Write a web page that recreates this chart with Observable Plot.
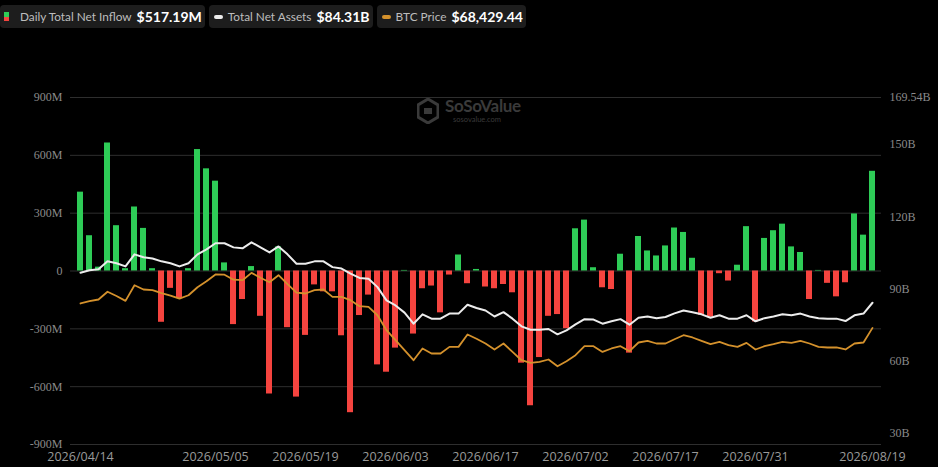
<!DOCTYPE html>
<html>
<head>
<meta charset="utf-8">
<script src="https://cdn.jsdelivr.net/npm/d3@7"></script>
<script src="https://cdn.jsdelivr.net/npm/@observablehq/plot@0.6"></script>
<style>
  html, body { margin: 0; padding: 0; background: #000; }
  #wrap { position: relative; width: 938px; height: 467px; overflow: hidden; background: #000; }
  #legend { height: 40px; display: flex; gap: 4px; padding-top: 5px; box-sizing: border-box; font-family: Lato, "Open Sans", sans-serif; }
  .pill { height: 23px; background: #1d1d1d; border-radius: 4px; display: flex; align-items: center; padding: 0 3px 0 4px; box-sizing: border-box; }
  .lab { color: #bdbdbd; font-size: 11.8px; margin-right: 5px; }
  .val { color: #fff; font-size: 14px; font-weight: 700; }
  .ico-sq { width: 5px; height: 9px; margin-right: 11px; background: linear-gradient(#2ecc57 50%, #f5443f 50%); }
  .ico-ln { width: 9px; height: 4px; border-radius: 2px; margin-right: 5px; margin-left: 1px; }
  #wm { position: absolute; left: 417px; top: 98px; display: flex; align-items: center; gap: 6px; font-family: Lato, sans-serif; color: #3a3a3a; }
  #wm .t1 { font-size: 17px; font-weight: 700; line-height: 16px; letter-spacing: -0.3px; }
  #wm .t2 { font-size: 7.5px; line-height: 8px; padding-left: 8px; margin-top: 2px; }
  g[aria-label="x-axis tick label"] { font-family: "Open Sans", sans-serif; font-size: 12.5px; fill: #9a9a9a; }
  g[aria-label="y-axis tick label"] { font-family: "Liberation Serif", serif; font-size: 12px; fill: #8a8a8a; }
</style>
</head>
<body>
<div id="wrap">
  <div id="legend"></div>
  <div id="chart"></div>
  <div id="wm">
    <svg width="22" height="26" viewBox="0 0 22 26"><path d="M11 1 L21 7 L21 19 L11 25 L1 19 L1 7 Z" fill="none" stroke="#3a3a3a" stroke-width="3"/><path d="M7 10 L15 10 L15 16 L7 16 Z" fill="#3a3a3a"/></svg>
    <div><div class="t1">SoSoValue</div><div class="t2">sosovalue.com</div></div>
  </div>
</div>
<script>
// Trading days (categories)
const dates = [
  "2026/04/14","2026/04/15","2026/04/16","2026/04/17","2026/04/20","2026/04/21","2026/04/22","2026/04/23","2026/04/24","2026/04/27","2026/04/28","2026/04/29","2026/04/30",
  "2026/05/01","2026/05/04","2026/05/05","2026/05/06","2026/05/07","2026/05/08","2026/05/11","2026/05/12","2026/05/13","2026/05/14","2026/05/15","2026/05/18","2026/05/19","2026/05/20","2026/05/21","2026/05/22","2026/05/26","2026/05/27","2026/05/28","2026/05/29",
  "2026/06/01","2026/06/02","2026/06/03","2026/06/04","2026/06/05","2026/06/08","2026/06/09","2026/06/10","2026/06/11","2026/06/12","2026/06/15","2026/06/16","2026/06/17","2026/06/18","2026/06/22","2026/06/23","2026/06/24","2026/06/25","2026/06/26","2026/06/29","2026/06/30",
  "2026/07/01","2026/07/02","2026/07/06","2026/07/07","2026/07/08","2026/07/09","2026/07/10","2026/07/13","2026/07/14","2026/07/15","2026/07/16","2026/07/17","2026/07/20","2026/07/21","2026/07/22","2026/07/23","2026/07/24","2026/07/27","2026/07/28","2026/07/29","2026/07/30","2026/07/31",
  "2026/08/03","2026/08/04","2026/08/05","2026/08/06","2026/08/07","2026/08/10","2026/08/11","2026/08/12","2026/08/13","2026/08/14","2026/08/17","2026/08/18","2026/08/19"
];

// Daily total net inflow, $M
const netInflow = [
  409,183,20,664,235,12,332,221,12,-266,-90,-143,12,
  630,530,466,42,-278,-148,23,-235,-638,125,-294,-654,-334,-72,-108,-108,-336,-735,-231,-125,
  -487,-525,-400,3,-327,-92,-78,-217,-21,83,-66,8,-83,-92,-70,-113,-478,-699,-449,-235,-226,-299,
  219,264,17,-87,-96,87,-426,179,104,78,130,223,200,66,-230,-240,-14,-52,30,230,-264,169,209,243,125,96,
  -148,3,-64,-134,-61,296,186,517.19
];

// Total net assets, $B
const totalNetAssets = [
  96.8,97.8,98.2,101.5,100.7,99.4,104.4,103.2,102.7,101.5,100.7,99.4,100.7,
  104.4,106.5,109.0,109.0,107.3,106.9,109.4,107.3,105.2,107.7,104.4,100.5,100.5,101.5,101.5,99.1,98.5,96.4,94.6,94.3,
  90.8,85.3,83.2,80.2,75.6,79.5,77.7,77.7,79.8,79.8,83.5,82.1,81.1,78.6,80.4,77.7,74.5,73.1,73.1,73.4,71.2,72.8,
  75.3,77.5,77.3,75.6,76.6,77.5,75.2,78.1,78.6,77.9,78.4,79.9,81.1,80.4,79.5,78.1,79.1,77.7,77.7,79.1,76.6,77.9,78.6,79.5,79.1,79.8,
  78.6,77.9,77.7,77.7,76.7,79.1,79.8,84.31
];

// BTC price, $
const btcPrice = [
  74530,75100,75530,77480,76400,75180,79100,78030,77850,77100,76480,75730,76600,
  78600,80100,81780,81730,80480,80350,82180,80980,79850,81600,79350,77230,77030,77850,78030,76180,76180,75350,73850,73680,
  71600,67850,65350,62850,60350,63280,62030,62030,63680,63680,66780,65730,64530,63030,64530,62430,60350,59680,59930,60530,58850,60100,
  61600,63850,63850,62430,63280,63850,62600,64780,65180,64530,64530,65600,66600,66030,65180,64350,64930,64100,63680,64680,63030,63850,64350,64930,64680,65180,
  64530,63680,63530,63530,63030,64530,64780,68429.44
];

const xTicks = ["2026/04/14","2026/05/05","2026/05/19","2026/06/03","2026/06/17","2026/07/02","2026/07/17","2026/07/31","2026/08/19"];
const leftTicks = [-900,-600,-300,0,300,600,900];
const rightTicks = [30,60,90,120,150,169.54];
const assetsDomain = [25.44,169.54];
const btcDomain = [39279,126029];

const green = "#2ecc57", red = "#f5443f", white = "#ececec", orange = "#d4912c";

const data = dates.map((d,i) => ({date: d, flow: netInflow[i], assets: totalNetAssets[i], btc: btcPrice[i]}));
const assetsToY = d3.scaleLinear().domain(assetsDomain).range([-900,900]);
const btcToY = d3.scaleLinear().domain(btcDomain).range([-900,900]);

const fmtRight = d => {
  const v = assetsToY.invert(d);
  return Math.abs(v - Math.round(v)) < 1e-6 ? `${Math.round(v)}B` : `${v.toFixed(2)}B`;
};

const chart = Plot.plot({
  width: 938, height: 427,
  marginTop: 57, marginBottom: 23, marginLeft: 70, marginRight: 57,
  style: {background: "#000", color: "#8a8a8a", fontFamily: "Liberation Serif", fontSize: "12px", overflow: "visible"},
  x: {type: "band", domain: dates, paddingInner: 0.34, paddingOuter: 0.12, axis: null, label: null},
  y: {domain: [-900, 900], axis: null, label: null},
  marks: [
    Plot.gridY(leftTicks, {stroke: "#2e2e2e", strokeOpacity: 1, strokeWidth: 1}),
    Plot.axisY(leftTicks, {anchor: "left", label: null, tickSize: 0, tickPadding: 8, tickFormat: d => d === 0 ? "0" : `${d}M`}),
    Plot.axisY(rightTicks.map(assetsToY), {anchor: "right", label: null, tickSize: 0, tickPadding: 8, tickFormat: fmtRight, textAnchor: "start"}),
    Plot.axisX(xTicks, {anchor: "bottom", label: null, tickSize: 0, tickPadding: 8}),
    Plot.barY(data.filter(d => d.flow >= 0), {x: "date", y: "flow", fill: green}),
    Plot.barY(data.filter(d => d.flow < 0), {x: "date", y: "flow", fill: red}),
    Plot.line(data, {x: "date", y: d => btcToY(d.btc), stroke: orange, strokeWidth: 1.8}),
    Plot.line(data, {x: "date", y: d => assetsToY(d.assets), stroke: white, strokeWidth: 2})
  ]
});
document.getElementById("chart").appendChild(chart);

// Legend
const last = data[data.length - 1];
const legendItems = [
  {icon: "sq", label: "Daily Total Net Inflow", value: `$${d3.format(".2f")(last.flow)}M`},
  {icon: white, label: "Total Net Assets", value: `$${d3.format(".2f")(last.assets)}B`},
  {icon: orange, label: "BTC Price", value: `$${d3.format(",.2f")(last.btc)}`}
];
const legend = d3.select("#legend");
legendItems.forEach(it => {
  const p = legend.append("div").attr("class", "pill");
  if (it.icon === "sq") p.append("div").attr("class", "ico-sq");
  else p.append("div").attr("class", "ico-ln").style("background", it.icon);
  p.append("span").attr("class", "lab").text(it.label);
  p.append("span").attr("class", "val").text(it.value);
});
</script>
</body>
</html>
